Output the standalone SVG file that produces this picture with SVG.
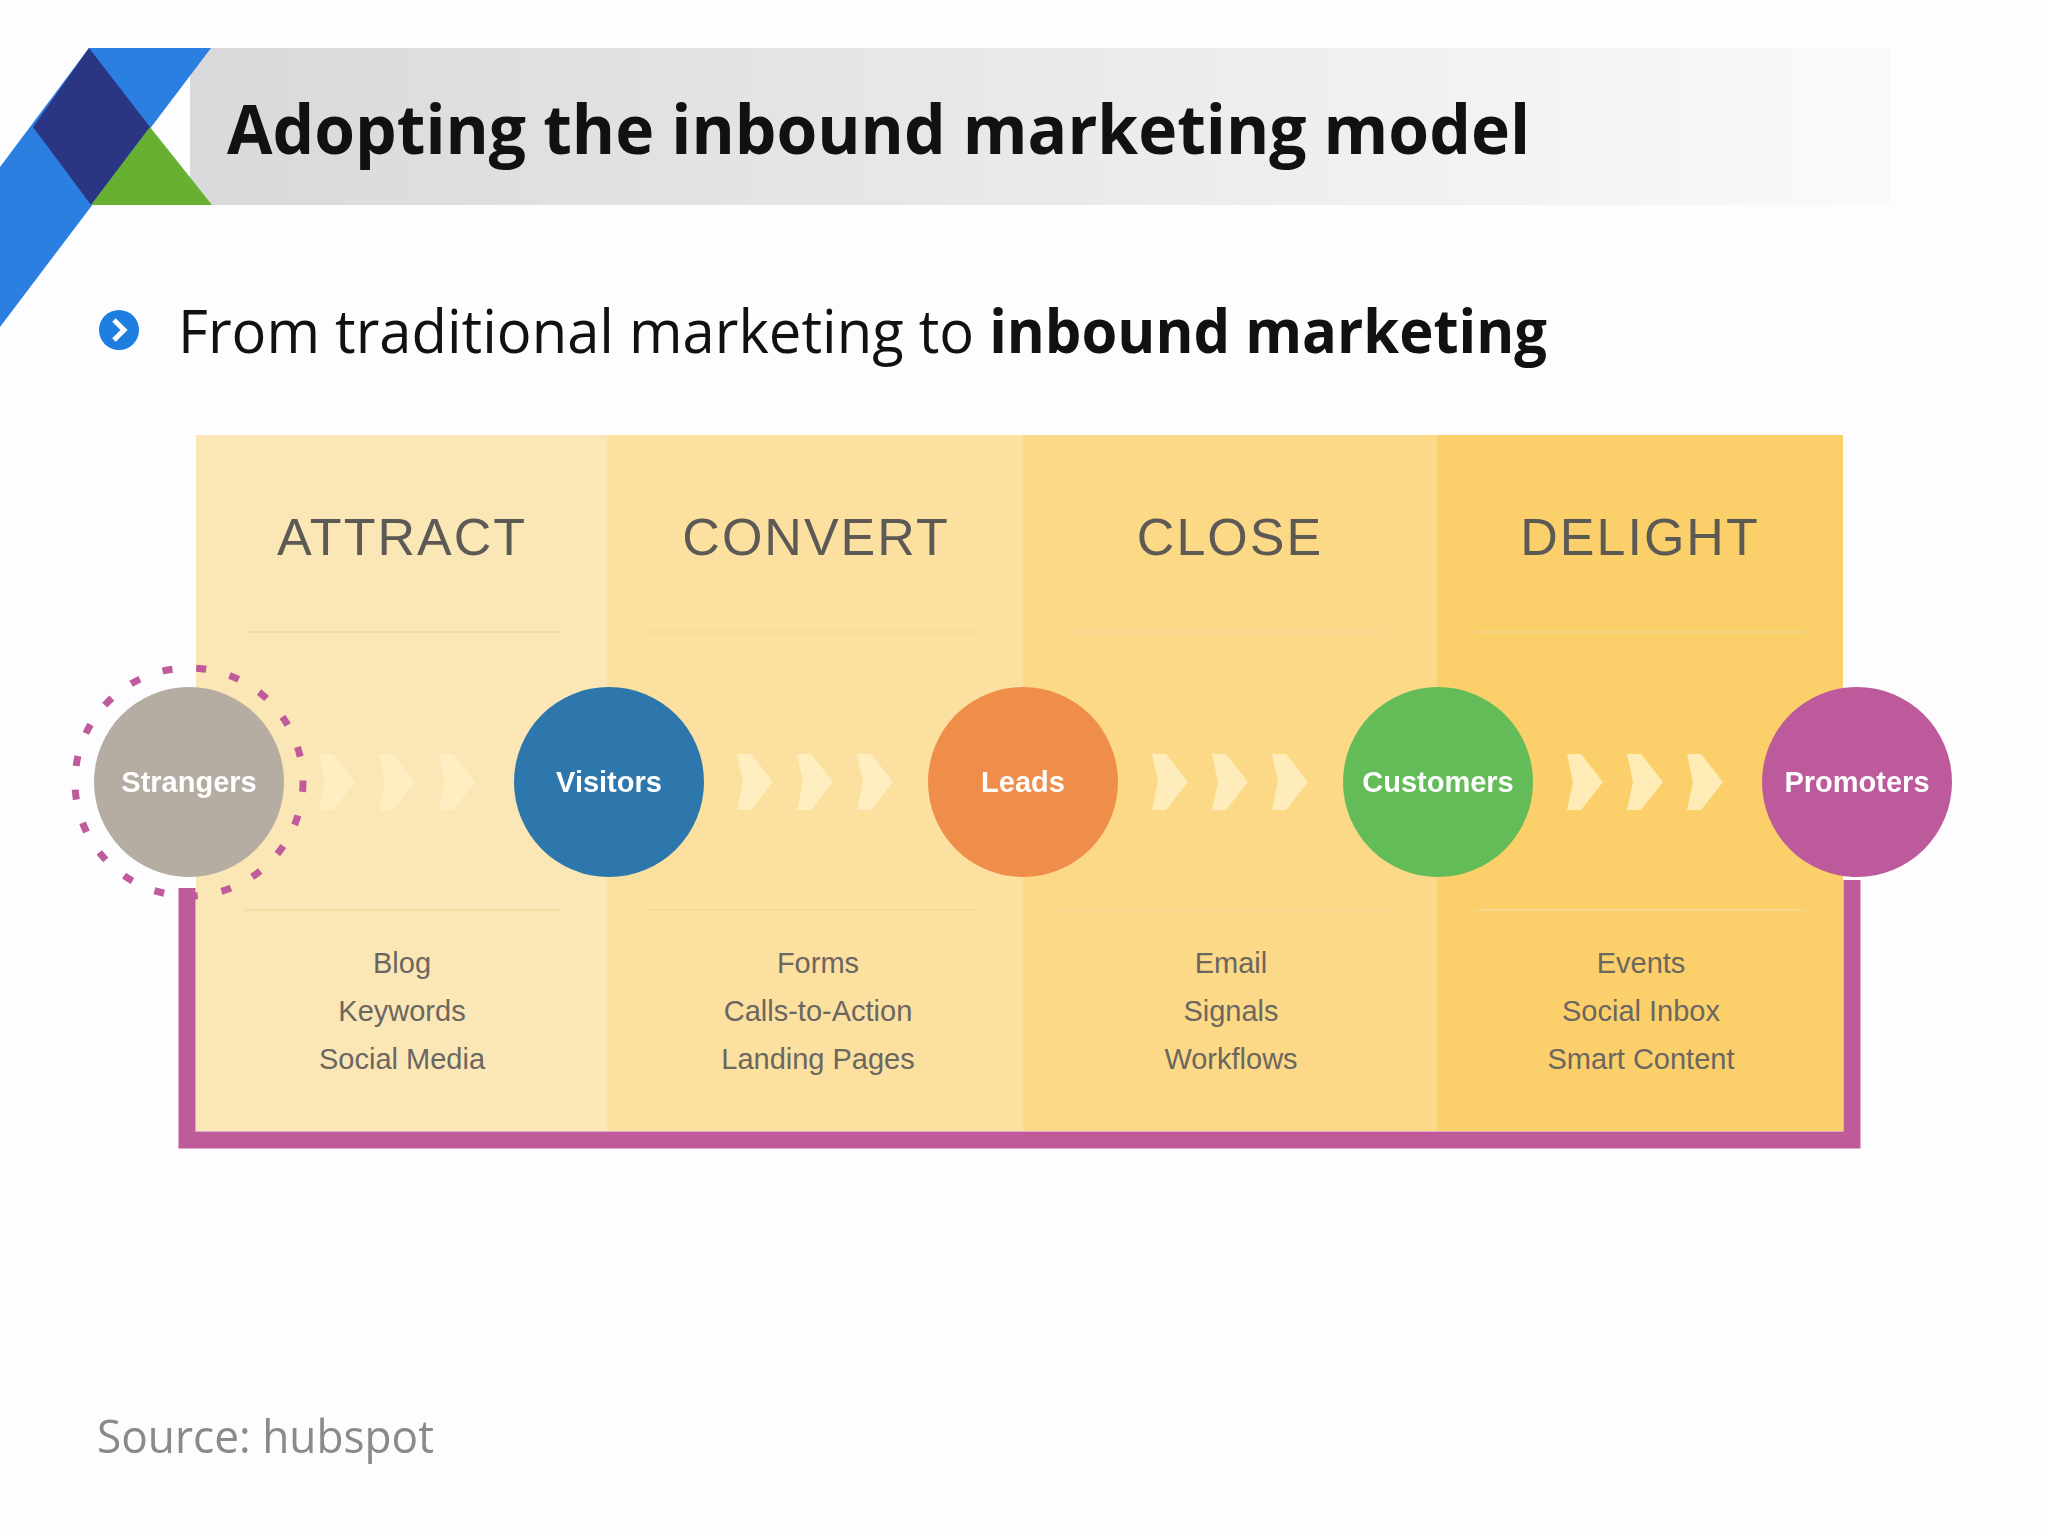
<svg xmlns="http://www.w3.org/2000/svg" width="2048" height="1536" viewBox="0 0 2048 1536">
<defs>
<linearGradient id="hdr" x1="0" x2="1" y1="0" y2="0"><stop offset="0" stop-color="#d9d9db"/><stop offset="1" stop-color="#fafafc"/></linearGradient>
<g id="chev"><polygon points="0,-28 14,-28 36,0 14,28 0,28 6,0"/></g>
</defs>
<style>
.h{font-family:"Liberation Sans",Arial,sans-serif;font-size:52px;fill:#5d5a55;text-anchor:middle;letter-spacing:2px}
.it{font-family:"Liberation Sans",Arial,sans-serif;font-size:29px;fill:#6b6660;text-anchor:middle}
.cl{font-family:"Liberation Sans",Arial,sans-serif;font-size:29px;font-weight:bold;fill:#fff;text-anchor:middle}
.ch{fill:#fff0c4;opacity:0.85}
.ln{stroke:#f2d89a;stroke-width:1.5}
</style>
<rect width="2048" height="1536" fill="#fdfdff"/>
<rect x="190" y="48" width="1700" height="157" fill="url(#hdr)"/>
<g id="logo">
<polygon points="89,48 211,48 0,327 0,167" fill="#2b7fe0"/>
<polygon points="89,48 150,127 91,205 33,127" fill="#2a3584"/>
<polygon points="150,127 212,205 91,205" fill="#68b032"/>
</g>
<text x="227" y="154" font-family="'Open Sans','Liberation Sans',sans-serif" font-size="68" font-weight="bold" fill="#111" textLength="1303" lengthAdjust="spacingAndGlyphs">Adopting the inbound marketing model</text>
<circle cx="119" cy="330" r="20" fill="#1e7ee0"/>
<polyline points="114,320 124,330 114,340" fill="none" stroke="#fff" stroke-width="5"/>
<text x="178" y="353" font-family="'Open Sans','Liberation Sans',sans-serif" font-size="60" fill="#111" textLength="1369" lengthAdjust="spacingAndGlyphs">From traditional marketing to <tspan font-weight="bold">inbound marketing</tspan></text>
<g id="panel">
<rect x="196" y="435" width="411" height="696" fill="#fbe6b6"/>
<rect x="607" y="435" width="416" height="696" fill="#fbe0a0"/>
<rect x="1023" y="435" width="414" height="696" fill="#fbd987"/>
<rect x="1437" y="435" width="406" height="696" fill="#fbd06a"/>
<line class="ln" x1="245" y1="632" x2="560" y2="632"/><line class="ln" x1="645" y1="632" x2="975" y2="632"/><line class="ln" x1="1060" y1="632" x2="1390" y2="632"/><line class="ln" x1="1475" y1="632" x2="1805" y2="632"/>
<line class="ln" x1="245" y1="910" x2="560" y2="910"/><line class="ln" x1="645" y1="910" x2="975" y2="910"/><line class="ln" x1="1060" y1="910" x2="1390" y2="910"/><line class="ln" x1="1475" y1="910" x2="1805" y2="910"/>
<text class="h" x="402" y="555">ATTRACT</text><text class="h" x="816" y="555">CONVERT</text><text class="h" x="1230" y="555">CLOSE</text><text class="h" x="1640" y="555">DELIGHT</text>
<text class="it" x="402" y="973">Blog</text><text class="it" x="402" y="1021">Keywords</text><text class="it" x="402" y="1069">Social Media</text>
<text class="it" x="818" y="973">Forms</text><text class="it" x="818" y="1021">Calls-to-Action</text><text class="it" x="818" y="1069">Landing Pages</text>
<text class="it" x="1231" y="973">Email</text><text class="it" x="1231" y="1021">Signals</text><text class="it" x="1231" y="1069">Workflows</text>
<text class="it" x="1641" y="973">Events</text><text class="it" x="1641" y="1021">Social Inbox</text><text class="it" x="1641" y="1069">Smart Content</text>
</g>
<g id="connectors">
<polyline points="187,888 187,1140 1852,1140 1852,880" fill="none" stroke="#bf5b9a" stroke-width="17"/>
<g class="ch">
<use href="#chev" x="319" y="782"/><use href="#chev" x="379" y="782"/><use href="#chev" x="439" y="782"/>
<use href="#chev" x="737" y="782"/><use href="#chev" x="797" y="782"/><use href="#chev" x="857" y="782"/>
<use href="#chev" x="1152" y="782"/><use href="#chev" x="1212" y="782"/><use href="#chev" x="1272" y="782"/>
<use href="#chev" x="1567" y="782"/><use href="#chev" x="1627" y="782"/><use href="#chev" x="1687" y="782"/>
</g>
</g>
<g id="strangers"><circle cx="189" cy="782" r="114" fill="none" stroke="#bf5b9a" stroke-width="7" stroke-dasharray="10 24"/><circle cx="189" cy="782" r="95" fill="#b5aca2"/><text class="cl" x="189" y="792">Strangers</text></g>
<g id="visitors"><circle cx="609" cy="782" r="95" fill="#2e77ad"/><text class="cl" x="609" y="792">Visitors</text></g>
<g id="leads"><circle cx="1023" cy="782" r="95" fill="#ef8e4a"/><text class="cl" x="1023" y="792">Leads</text></g>
<g id="customers"><circle cx="1438" cy="782" r="95" fill="#63bc58"/><text class="cl" x="1438" y="792">Customers</text></g>
<g id="promoters"><circle cx="1857" cy="782" r="95" fill="#bd5a9c"/><text class="cl" x="1857" y="792">Promoters</text></g>
<text x="97" y="1453" font-family="'Open Sans','Liberation Sans',sans-serif" font-size="45" fill="#8a8a8a" textLength="337" lengthAdjust="spacingAndGlyphs">Source: hubspot</text>
</svg>
